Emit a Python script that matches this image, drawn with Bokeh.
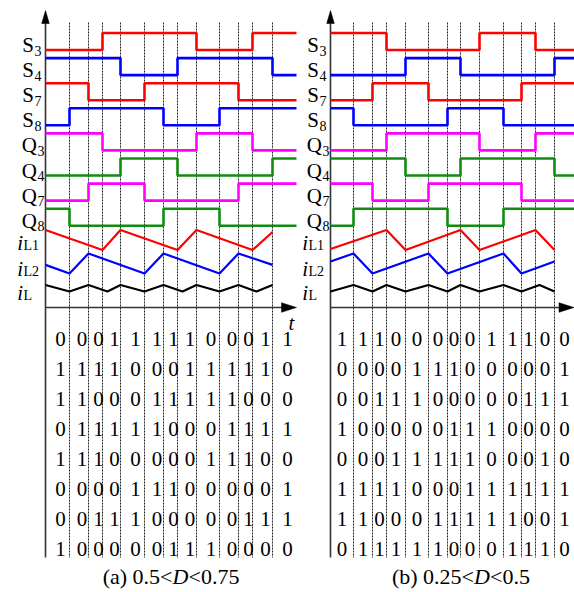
from bokeh.plotting import figure
from bokeh.layouts import row
from bokeh.models import Range1d
from bokeh.core.properties import value
from bokeh.embed import file_html
from bokeh.resources import INLINE

# ---------------- data ----------------
signal_names = ["S", "S", "S", "S", "Q", "Q", "Q", "Q"]
signal_subs = ["3", "4", "7", "8", "3", "4", "7", "8"]
signal_colors = ["#ff0000", "#0000ff", "#ff0000", "#0000ff",
                 "#ff00ff", "#118c11", "#ff00ff", "#118c11"]

# switching instants (time units) of panel (a) and (b)
left_edges = [0, 24, 43, 57, 75, 99, 118, 132, 151, 174, 193, 207, 227, 251]
right_edges = [0, 23, 42, 56, 75, 98, 117, 130, 149, 173, 191, 205, 224, 244]

# gate signal level in each interval (waveforms)
left_waves = ["0001111100011", "1111000111110", "1100011111000", "0111110001111",
              "1110000011100", "0000111000001", "0011100000111", "1000001110000"]
right_waves = ["1110000011100", "0000111000001", "0011100000111", "1000001110000",
               "0001111100011", "1111000111110", "1100011111000", "0111110001111"]

# switching-state tables as printed under each panel
left_table = ["0001111100011", "1111000111110", "1100011111000", "0111110001111",
              "1110000011100", "0000111000001", "0011100000111", "1000001110000"]
right_table = ["1110000011100", "0000111000001", "0011100000111", "1000001110000",
               "0001111100010", "1111000111111", "1100011111001", "0111110001110"]

# inductor currents (normalised), panel (a)
left_iL1_t = [0, 57, 75, 132, 151, 207, 227]
left_iL1 = [1.0, 0.0, 1.0, 0.0, 1.0, 0.0, 0.9]
left_iL2_t = [0, 24, 43, 99, 118, 174, 193, 227]
left_iL2 = [0.43, 0.0, 1.0, 0.0, 1.0, 0.0, 1.0, 0.43]
left_iL_t = [0, 24, 43, 62, 75, 99, 118, 137, 151, 174, 193, 211, 227]
left_iL = [1, 0, 1, 0, 1, 0, 1, 0, 1, 0, 1, 0, 1]

# inductor currents (normalised), panel (b)
right_iL1_t = [0, 56, 75, 130, 149, 205, 224]
right_iL1 = [0.05, 1.0, 0.0, 1.0, 0.0, 1.0, 0.0]
right_iL2_t = [0, 23, 42, 98, 117, 173, 191, 224]
right_iL2 = [0.6, 1.0, 0.0, 1.0, 0.0, 1.0, 0.0, 0.6]
right_iL_t = [0, 23, 42, 56, 75, 98, 117, 130, 149, 173, 191, 209, 224]
right_iL = [0, 1, 0, 1, 0, 1, 0, 1, 0, 1, 0, 1, 0]

current_subs = ["L1", "L2", "L"]
current_colors = ["#ff0000", "#0000ff", "#000000"]

left_caption = ["(a) 0.5<", "D", "<0.75"]
right_caption = ["(b) 0.25<", "D", "<0.5"]

# ---------------- layout constants ----------------
FONT = value("Liberation Serif")
FIG_H = 592
ROW0, ROW_STEP, AMP = 49.5, 25.1, 17.0
CUR_BASE = [249.5, 273.0, 291.0]
CUR_AMP = [20.0, 20.0, 6.5]
CUR_LABEL_Y = [(242, 245), (268, 271), (292, 295)]
AXIS_Y = 307
TOP_Y, BOT_Y = 10, 557
GRID_TOP = 22
TABLE_Y0, TABLE_STEP = 338, 30
CAPTION_Y = 576


def build(edges, waves, table, cur_t, cur_v, caption, x0, width, axis_x,
          d_center, show_t, digit_shift):
    x_lo = x0 - axis_x
    x_hi = x_lo + width
    p = figure(width=width, height=FIG_H, output_backend="svg",
               toolbar_location=None, x_axis_type=None, y_axis_type=None,
               x_range=Range1d(x_lo, x_hi),
               y_range=Range1d(FIG_H, 0), min_border=0)
    p.outline_line_color = None
    p.grid.visible = False
    p.background_fill_color = "white"
    p.border_fill_color = "white"
    t_end = edges[-1]
    tip = min(t_end, x_hi - 0.5)

    # dotted vertical lines at switching instants
    inner = edges[1:-1]
    p.segment(x0=inner, y0=[GRID_TOP] * len(inner), x1=inner, y1=[BOT_Y] * len(inner),
              line_color="#222222", line_width=1, line_dash="2 1")

    # axes
    p.line([0, 0], [BOT_Y, TOP_Y + 8], line_color="#333333", line_width=1.6)
    p.patch([0, -3.8, 3.8], [TOP_Y, TOP_Y + 13, TOP_Y + 13],
            fill_color="black", line_color="black", line_width=0.5)
    p.line([0, tip - 8], [AXIS_Y, AXIS_Y], line_color="#333333", line_width=1.6)
    p.patch([tip, tip - 15, tip - 15], [AXIS_Y, AXIS_Y - 4.8, AXIS_Y + 4.8],
            fill_color="black", line_color="black", line_width=0.5)
    if show_t:
        p.text([t_end - 5], [322], text=["t"], text_font=FONT, text_font_size="21px",
               text_font_style="italic", text_align="center",
               text_baseline="alphabetic", text_color="black")

    # gate signal waveforms and labels
    for i, bits in enumerate(waves):
        base = ROW0 + ROW_STEP * i
        xs, ys = [], []
        for j, b in enumerate(bits):
            yv = base - AMP * int(b)
            xs += [edges[j], edges[j + 1]]
            ys += [yv, yv]
        p.line(xs, ys, line_color=signal_colors[i], line_width=2.6)
        xsub = -11.5 if signal_names[i] == "S" else -8.5
        p.text([xsub], [base - 5], text=[signal_names[i]], text_font=FONT,
               text_font_size="21px", text_align="right",
               text_baseline="alphabetic", text_color="black")
        p.text([xsub + 0.5], [base + 0.5], text=[signal_subs[i]], text_font=FONT,
               text_font_size="14px", text_align="left",
               text_baseline="alphabetic", text_color="black")

    # inductor currents and labels
    for k in range(3):
        ys = [CUR_BASE[k] - CUR_AMP[k] * v for v in cur_v[k]]
        p.line(cur_t[k], ys, line_color=current_colors[k], line_width=2.2)
        p.text([-22.5], [CUR_LABEL_Y[k][0]], text=["i"], text_font=FONT,
               text_font_size="21px", text_font_style="italic", text_align="right",
               text_baseline="alphabetic", text_color="black")
        p.text([-22], [CUR_LABEL_Y[k][1]], text=[current_subs[k]], text_font=FONT,
               text_font_size="14px", text_align="left",
               text_baseline="alphabetic", text_color="black")

    # switching-state table
    tx, ty, tt = [], [], []
    for r, rowbits in enumerate(table):
        for j, b in enumerate(rowbits):
            cx = (edges[j] + edges[j + 1]) / 2 + digit_shift
            tx.append(min(cx, x_hi - 6.5))
            ty.append(TABLE_Y0 + TABLE_STEP * r)
            tt.append(b)
    p.text(tx, ty, text=tt, text_font=FONT, text_font_size="21px",
           text_align="center", text_baseline="alphabetic", text_color="black")

    # caption
    p.text([d_center - 8], [CAPTION_Y], text=[caption[0]], text_font=FONT,
           text_font_size="22px", text_align="right", text_baseline="alphabetic",
           text_color="black")
    p.text([d_center], [CAPTION_Y], text=[caption[1]], text_font=FONT,
           text_font_size="22px", text_font_style="italic", text_align="center",
           text_baseline="alphabetic", text_color="black")
    p.text([d_center + 8], [CAPTION_Y], text=[caption[2]], text_font=FONT,
           text_font_size="22px", text_align="left", text_baseline="alphabetic",
           text_color="black")
    return p


left = build(left_edges, left_waves, left_table,
             [left_iL1_t, left_iL2_t, left_iL_t], [left_iL1, left_iL2, left_iL],
             left_caption, 0, 300, 45, 180 - 45, True, 3)
right = build(right_edges, right_waves, right_table,
              [right_iL1_t, right_iL2_t, right_iL_t], [right_iL1, right_iL2, right_iL],
              right_caption, 300, 274, 330, 481.5 - 330, False, 0)

layout = row(left, right, spacing=0)
open("out.html", "w").write(file_html(layout, INLINE))
